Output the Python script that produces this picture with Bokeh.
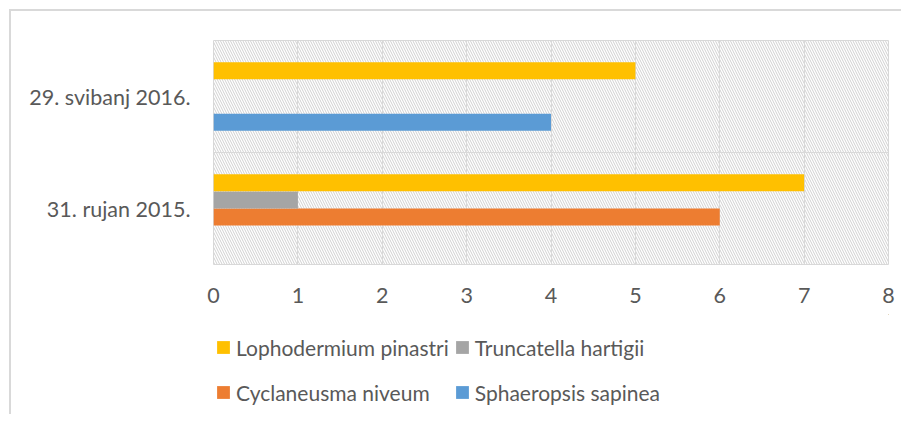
from bokeh.plotting import figure
from bokeh.layouts import column
from bokeh.models import (FactorRange, Range1d, SingleIntervalTicker, Span, BoxAnnotation,
                          Legend, LegendItem, ColumnDataSource)
from bokeh.transform import dodge
from bokeh.embed import file_html
from bokeh.resources import INLINE

categories = ["31. rujan 2015.", "29. svibanj 2016."]
series_names = ["Sphaeropsis sapinea", "Cyclaneusma niveum", "Truncatella hartigii", "Lophodermium pinastri"]
sphaeropsis = [0, 4]
cyclaneusma = [6, 0]
truncatella = [1, 0]
lophodermium = [7, 5]
x_ticks = [0, 1, 2, 3, 4, 5, 6, 7, 8]

colors = ["#5B9BD5", "#ED7D31", "#A5A5A5", "#FFC000"]
offsets = [-0.229, -0.076, 0.076, 0.229]
FONT = "Lato"
TXT = "#595959"
GRID = "#d9d9d9"
keys = ["s0", "s1", "s2", "s3"]

src = ColumnDataSource(dict(cat=categories, s0=sphaeropsis, s1=cyclaneusma, s2=truncatella, s3=lophodermium))

p = figure(y_range=FactorRange(factors=categories), x_range=Range1d(x_ticks[0], x_ticks[-1]),
           frame_width=675, frame_height=224, output_backend="svg", toolbar_location=None,
           min_border_left=202, min_border_right=13, min_border_top=29, min_border_bottom=50)

p.add_layout(BoxAnnotation(fill_color=None, line_color=None, hatch_pattern="\\", hatch_color="#d0d0d0",
                           hatch_scale=5, hatch_weight=1, level="image"))

for i, key in enumerate(keys):
    p.hbar(y=dodge("cat", offsets[i], range=p.y_range), left=0, right=key, height=0.152,
           source=src, fill_color=colors[i], line_color=None)

p.outline_line_color = GRID
p.outline_line_width = 1
p.xgrid.grid_line_color = GRID
p.xgrid.ticker = SingleIntervalTicker(interval=1)
p.ygrid.grid_line_color = None
p.add_layout(Span(location=1, dimension="width", line_color=GRID, line_width=1))

p.xaxis.ticker = SingleIntervalTicker(interval=1)
for ax in (p.xaxis[0], p.yaxis[0]):
    ax.axis_line_color = None
    ax.major_tick_line_color = None
    ax.minor_tick_line_color = None
    ax.major_label_text_font = FONT
    ax.major_label_text_font_size = "21.5px"
    ax.major_label_text_color = TXT
p.xaxis.major_label_standoff = 17
p.yaxis.major_label_standoff = 17

# legend strip below the chart; its renderers use the same data but lie outside its (hidden) ranges
lp = figure(width=890, height=100, output_backend="svg", toolbar_location=None,
            x_axis_type=None, y_axis_type=None, min_border=0,
            x_range=Range1d(-30, -20), y_range=Range1d(-30, -20))
lp.outline_line_color = None
lp.xgrid.grid_line_color = None
lp.ygrid.grid_line_color = None
leg_r = [lp.hbar(y=key, left=0, right=key, height=0.1, source=src, fill_color=colors[i], line_color=None)
         for i, key in enumerate(keys)]

order = [3, 1, 2, 0]
legend = Legend(items=[LegendItem(label=series_names[i], renderers=[leg_r[i]]) for i in order],
                orientation="vertical", nrows=2, location=(2, 2), margin=0, padding=0,
                glyph_width=16, glyph_height=16, label_standoff=5, spacing=5, label_height=40,
                label_text_font=FONT, label_text_font_size="21px", label_text_color=TXT,
                border_line_color=None, background_fill_alpha=0)
lp.add_layout(legend, "center")

layout = column(p, lp, spacing=0)
layout.styles = {"margin-left": "9px", "margin-top": "9px",
                 "border-left": "2px solid #d9d9d9", "border-top": "2px solid #d9d9d9"}

open("out.html", "w").write(file_html(layout, INLINE))
